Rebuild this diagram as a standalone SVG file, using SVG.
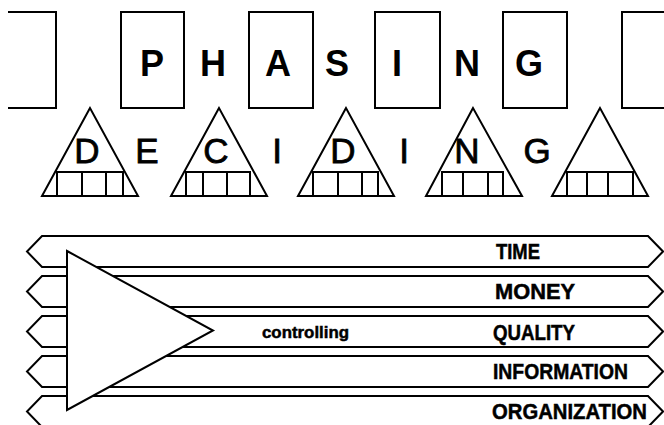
<svg xmlns="http://www.w3.org/2000/svg" width="664" height="425" viewBox="0 0 664 425">
<style>
.ln{fill:none;stroke:#000;stroke-width:2;stroke-linejoin:miter}
.wf{fill:#fff;stroke:#000;stroke-width:2}
.big{font-family:"Liberation Sans",Arial,sans-serif;font-size:36px;font-weight:bold;fill:#000;text-anchor:middle}
.dec{font-family:"Liberation Sans",Arial,sans-serif;font-size:35px;font-weight:normal;fill:#000;text-anchor:middle;stroke:#000;stroke-width:0.8}
.lab{font-family:"Liberation Sans",Arial,sans-serif;font-size:22px;font-weight:bold;fill:#000;stroke:#000;stroke-width:0.5}
.ctl{font-family:"Liberation Sans",Arial,sans-serif;font-size:17px;font-weight:bold;fill:#000;stroke:#000;stroke-width:0.5}
</style>
<rect width="664" height="425" fill="#fff"/>
<g id="phasing">
  <g id="box1"><path class="ln" d="M8 12H56V108H8"/></g>
  <g id="box2"><rect class="ln" x="121" y="12" width="63" height="96"/><text class="big" x="152" y="76">P</text></g>
  <g id="letterH"><text class="big" x="213" y="76">H</text></g>
  <g id="box3"><rect class="ln" x="249" y="12" width="64" height="96"/><text class="big" x="278" y="76">A</text></g>
  <g id="letterS"><text class="big" x="337" y="76">S</text></g>
  <g id="box4"><rect class="ln" x="375" y="12" width="65" height="96"/><text class="big" x="397" y="76">I</text></g>
  <g id="letterN"><text class="big" x="467" y="76">N</text></g>
  <g id="box5"><rect class="ln" x="503" y="12" width="64" height="96"/><text class="big" x="529" y="76">G</text></g>
  <g id="box6"><path class="ln" d="M666 12H622V108H666"/></g>
</g>
<g id="deciding">
  <g id="tri1"><path class="ln" d="M90 108L42 196H138Z"/><path class="ln" d="M57 196V172H123V196M82 172V196M106 172V196"/><text class="dec" x="87" y="163">D</text></g>
  <g id="letterE"><text class="dec" x="147" y="163">E</text></g>
  <g id="tri2"><path class="ln" d="M219 108L171 196H267Z"/><path class="ln" d="M186 196V172H250V196M203 172V196M227 172V196"/><text class="dec" x="216" y="163">C</text></g>
  <g id="letterI1"><text class="dec" x="277" y="163">I</text></g>
  <g id="tri3"><path class="ln" d="M346 108L298 196H394Z"/><path class="ln" d="M313 196V172H378V196M338 172V196M362 172V196"/><text class="dec" x="343" y="163">D</text></g>
  <g id="letterI2"><text class="dec" x="404" y="163">I</text></g>
  <g id="tri4"><path class="ln" d="M473 108L426 196H522Z"/><path class="ln" d="M442 196V172H503V196M463 172V196M488 172V196"/><text class="dec" x="467" y="163">N</text></g>
  <g id="letterG"><text class="dec" x="537" y="163">G</text></g>
  <g id="tri5"><path class="ln" d="M600 108L552 196H648Z"/><path class="ln" d="M567 196V172H633V196M587 172V196M608 172V196"/></g>
</g>
<g id="connectors">
  <g id="band-time"><path class="ln" d="M42 236H648L663 251.5L648 267H42L27 251.5Z"/></g>
  <g id="band-money"><path class="ln" d="M42 276H648L663 291.5L648 307H42L27 291.5Z"/></g>
  <g id="band-quality"><path class="ln" d="M42 316H648L663 331.5L648 347H42L27 331.5Z"/></g>
  <g id="band-information"><path class="ln" d="M42 356H648L663 371.5L648 387H42L27 371.5Z"/></g>
  <g id="band-organization"><path class="ln" d="M42 396H648L663 411.5L648 427H42L27 411.5Z"/></g>
</g>
<g id="controller">
  <path class="wf" d="M67 251L213 330.5L67 410Z"/>
  <text class="ctl" x="262" y="338" textLength="87" lengthAdjust="spacingAndGlyphs">controlling</text>
</g>
<g id="labels">
  <text class="lab" x="496" y="259" textLength="44" lengthAdjust="spacingAndGlyphs">TIME</text>
  <text class="lab" x="495" y="299" textLength="80" lengthAdjust="spacingAndGlyphs">MONEY</text>
  <text class="lab" x="493" y="340" textLength="82" lengthAdjust="spacingAndGlyphs">QUALITY</text>
  <text class="lab" x="493" y="379" textLength="135" lengthAdjust="spacingAndGlyphs">INFORMATION</text>
  <text class="lab" x="492" y="419" textLength="155" lengthAdjust="spacingAndGlyphs">ORGANIZATION</text>
</g>
</svg>
